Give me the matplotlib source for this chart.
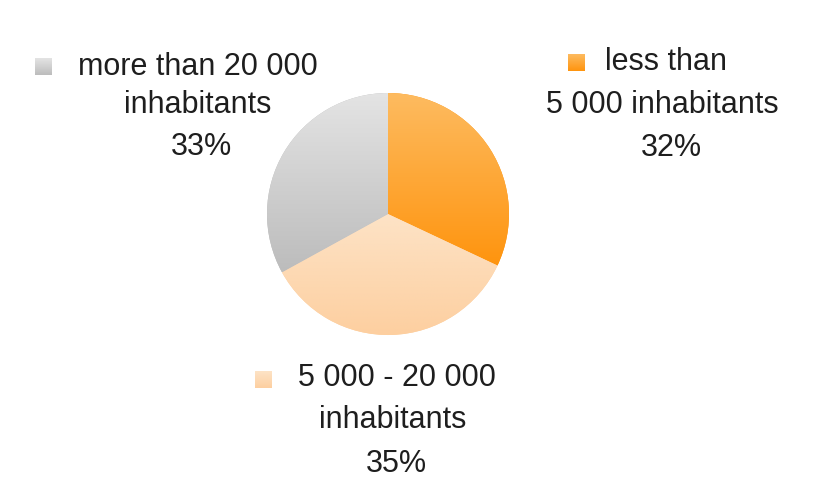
import numpy as np
import matplotlib
matplotlib.use("Agg")
import matplotlib.pyplot as plt
from matplotlib.colors import LinearSegmentedColormap

# ---- data ----
categories = ["less than\n5 000 inhabitants", "5 000 - 20 000\ninhabitants", "more than 20 000\ninhabitants"]
values = [32, 35, 33]
pct_labels = ["32%", "35%", "33%"]
grad_top = ["#FDBB60", "#FDE3C6", "#E4E4E4"]
grad_bot = ["#FF940E", "#FDCFA0", "#BCBCBC"]

W, H = 823, 493
fig = plt.figure(figsize=(W / 100, H / 100), dpi=100)
ax = fig.add_axes([0, 0, 1, 1])

def py(y):
    return H - y

cx, cy, r = 388, 214, 121
wedges, _ = ax.pie(values, center=(cx, py(cy)), radius=r, startangle=90,
                   counterclock=False, frame=True,
                   wedgeprops=dict(linewidth=0, edgecolor="none"))

# row 0 (bottom, origin lower) -> 0 -> bottom colour
grad = np.linspace(0, 1, 256).reshape(-1, 1)
for w, top, bot in zip(wedges, grad_top, grad_bot):
    w.set_facecolor(bot)
    ext = w.get_path().get_extents()
    cmap = LinearSegmentedColormap.from_list("g", [bot, top])
    im = ax.imshow(grad, cmap=cmap, extent=[ext.x0, ext.x1, ext.y0, ext.y1],
                   origin="lower", aspect="auto", zorder=2, interpolation="bilinear")
    im.set_clip_path(w)

ax.axis("off")

font = dict(family="Liberation Sans", fontsize=22, color="#1e1e1e")

blocks = [
    dict(xs=[666, 662, 671], ys=[62, 105, 148], box=(568, 54, 17)),
    dict(xs=[397, 393, 396], ys=[378, 420, 464], box=(255, 371, 17)),
    dict(xs=[198, 198, 201], ys=[67, 105, 147], box=(35, 58, 17)),
]

for cat, pct, blk, top, bot in zip(categories, pct_labels, blocks, grad_top, grad_bot):
    lines = cat.split("\n") + [pct]
    for t, x, y in zip(lines, blk["xs"], blk["ys"]):
        ax.text(x, py(y), t, ha="center", va="center", **font)
    bx, by, bs = blk["box"]
    cmap = LinearSegmentedColormap.from_list("g", [bot, top])
    ax.imshow(grad, cmap=cmap, extent=[bx, bx + bs, py(by + bs), py(by)],
              origin="lower", aspect="auto", zorder=3, interpolation="bilinear")

ax.set_xlim(0, W)
ax.set_ylim(0, H)
ax.set_aspect("auto")

fig.savefig("out.png", dpi=100, facecolor="white")
